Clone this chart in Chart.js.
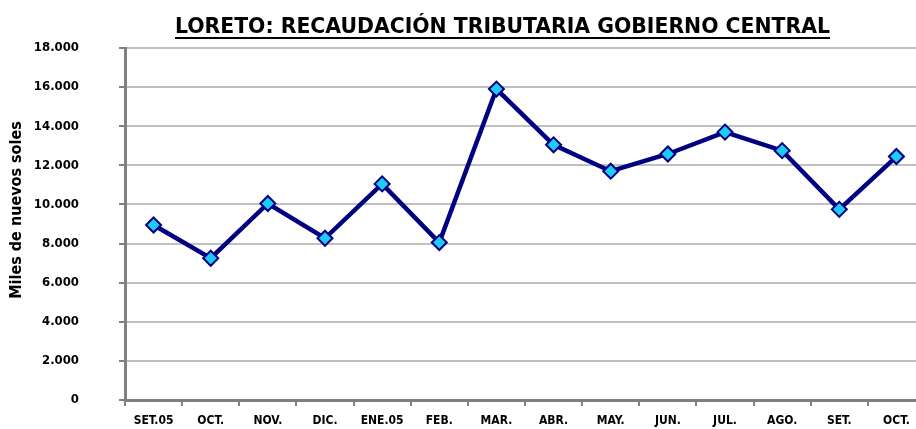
<!DOCTYPE html>
<html>
<head>
<meta charset="utf-8">
<script src="https://cdn.jsdelivr.net/npm/chart.js@4/dist/chart.umd.min.js"></script>
<style>
  html, body { margin: 0; padding: 0; background: #ffffff; overflow: hidden; }
  #wrap { width: 916px; height: 429px; overflow: hidden; }
  canvas { display: block; }
</style>
</head>
<body>
<div id="wrap"><canvas id="recaudacionChart" width="925" height="429"></canvas></div>
<script>
// Datos (miles de nuevos soles)
const meses = ['SET.05', 'OCT.', 'NOV.', 'DIC.', 'ENE.05', 'FEB.', 'MAR.', 'ABR.', 'MAY.', 'JUN.', 'JUL.', 'AGO.', 'SET.', 'OCT.'];
const recaudacion = [8950, 7250, 10050, 8270, 11050, 8050, 15900, 13050, 11700, 12580, 13700, 12750, 9750, 12450];
const ejeY = { min: 0, max: 18000, paso: 2000 };
const titulo = 'LORETO: RECAUDACIÓN TRIBUTARIA GOBIERNO CENTRAL';
const tituloY = 'Miles de nuevos soles';

const fuente = "'DejaVu Sans Condensed', 'Liberation Sans Narrow', 'Arial Narrow', sans-serif";

// Título subrayado (estrechado como en el original) y título del eje Y
const textos = {
    id: 'textos',
    afterDraw(chart) {
        const ctx = chart.ctx;
        const x0 = 175, x1 = 830;
        ctx.save();
        ctx.font = 'bold 21px ' + fuente;
        ctx.fillStyle = '#000';
        ctx.textBaseline = 'alphabetic';
        const w = ctx.measureText(titulo).width;
        ctx.translate(x0, 33);
        ctx.scale((x1 - x0) / w, 1);
        ctx.fillText(titulo, 0, 0);
        ctx.restore();

        ctx.save();
        ctx.strokeStyle = '#000';
        ctx.lineWidth = 2;
        ctx.beginPath();
        ctx.moveTo(x0, 38);
        ctx.lineTo(x1, 38);
        ctx.stroke();
        ctx.restore();

        ctx.save();
        ctx.font = 'bold 16px ' + fuente;
        ctx.fillStyle = '#000';
        ctx.textAlign = 'center';
        ctx.textBaseline = 'middle';
        ctx.translate(17, 210);
        ctx.rotate(-Math.PI / 2);
        ctx.fillText(tituloY, 0, 0);
        ctx.restore();
    }
};

function miles(v) {
    return String(v).replace(/\B(?=(\d{3})+(?!\d))/g, '.');
}

document.addEventListener('DOMContentLoaded', function() {
    const ctx = document.getElementById('recaudacionChart');
    new Chart(ctx, {
        type: 'line',
        data: {
            labels: meses,
            datasets: [{
                label: 'Recaudación',
                data: recaudacion,
                borderColor: '#000080',
                borderWidth: 4.5,
                backgroundColor: '#1ecbf5',
                pointStyle: 'rectRot',
                pointRadius: 7.5,
                pointBorderWidth: 2,
                pointBorderColor: '#000080',
                pointBackgroundColor: '#1ecbf5',
                tension: 0
            }]
        },
        options: {
            responsive: false,
            animation: false,
            devicePixelRatio: 1,
            layout: { autoPadding: false, padding: { left: 4, right: 0, top: 48, bottom: 0 } },
            plugins: {
                legend: { display: false },
                tooltip: { enabled: false },
                title: { display: false }
            },
            scales: {
                x: {
                    offset: true,
                    afterFit: s => { s.height = 29; },
                    border: { color: '#808080', width: 3 },
                    grid: {
                        offset: true,
                        drawOnChartArea: false,
                        drawTicks: true,
                        tickLength: 6,
                        color: '#808080',
                        lineWidth: 2
                    },
                    ticks: {
                        color: '#000',
                        font: { family: fuente, size: 12, weight: 'bold' },
                        maxRotation: 0,
                        autoSkip: false,
                        padding: 8
                    }
                },
                y: {
                    min: ejeY.min,
                    max: ejeY.max,
                    afterFit: s => {
                        s.width = 121;
                        s.paddingTop = 0;
                        s.paddingBottom = 0;
                    },
                    border: { color: '#808080', width: 3 },
                    grid: {
                        color: '#c0c0c0',
                        lineWidth: 2,
                        tickLength: 6,
                        tickColor: '#808080'
                    },
                    ticks: {
                        stepSize: ejeY.paso,
                        color: '#000',
                        font: { family: fuente, size: 13, weight: 'bold' },
                        padding: 40,
                        callback: v => miles(v)
                    },
                    title: { display: false }
                }
            }
        },
        plugins: [textos]
    });
});
</script>
</body>
</html>
